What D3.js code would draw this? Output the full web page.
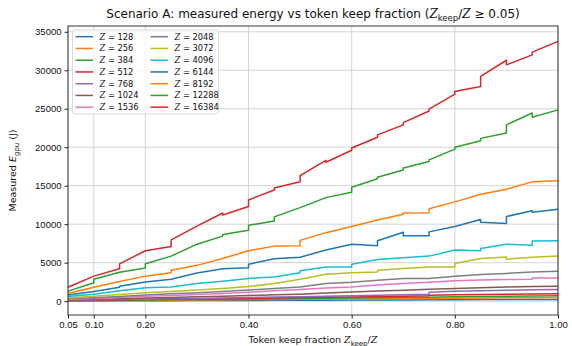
<!DOCTYPE html>
<head>
  <meta charset='utf-8'>
  <style>
    body { margin: 0; background: white; }
    svg { font-family: 'DejaVu Sans', sans-serif; }
    .grid line { stroke: #cfcfcf; stroke-width: 0.9px; }
    .axis path, .axis line { stroke: #222; }
    .axis text { font-size: 9.5px; fill: #111; }
    .line { fill: none; stroke-width: 1.5px; stroke-linejoin: round; }
    .z { font-style: italic; font-family: 'DejaVu Serif', serif; }
  </style>
</head>
<body>
<script src='https://d3js.org/d3.v7.min.js'></script>
<script>
    var
        W = 572,
        H = 346,
        margin = {top: 26, right: 14, bottom: 31, left: 68};

    // keep fractions (x) and tokens per series
    var fractions = [0.05, 0.10, 0.15, 0.20, 0.25, 0.30, 0.35, 0.40, 0.45, 0.50,
                     0.55, 0.60, 0.65, 0.70, 0.75, 0.80, 0.85, 0.90, 0.95, 1.00];
    var tokens = [128, 256, 384, 512, 768, 1024, 1536, 2048, 3072, 4096, 6144, 8192, 12288, 16384];
    var xTicks = [0.05, 0.10, 0.20, 0.40, 0.60, 0.80, 1.00];
    var yTicks = [0, 5000, 10000, 15000, 20000, 25000, 30000, 35000];
    var colors = ['#1f77b4', '#ff7f0e', '#2ca02c', '#d62728', '#9467bd', '#8c564b', '#e377c2',
                  '#7f7f7f', '#bcbd22', '#17becf'];

    // measured energy (J); a pair = value just before / just after a step at that fraction
    var e128 = [15, 25, 40, 50, 60, 75, 85, 95, 110, 120, 130, 140, 155, 165, 175, 190, 200, 210, 220, 230];
    var e256 = [35, 60, 80, 105, 130, 150, 175, 200, 220, 245, 270, 290, 315, 340, 360, 385, 410, 430, 455, 480];
    var e384 = [50, 80, 110, 150, 180, 210, 250, 280, 310, 350, 380, 420, 450, 490, 520, 560, 600, 630, 670, 700];
    var e512 = [70, 110, 150, 200, 240, 290, 330, 370, 420, 460, 510, 550, 600, 650, [700, 780], 820, 850, 880, 920, 950];
    var e768 = [100, 150, 200, 260, 310, 360, 420, 470, 530, 580, 640, 700, 760, 820, [880, 1150], 1300, 1350, 1420, 1470, 1500];
    var e1024 = [150, 230, 320, 400, 480, 560, 640, 730, 820, 900, 1050, 1200, 1320, 1420, 1530, 1640, 1750, 1850, 1900, 1950];
    var e1536 = [220, 350, 480, 620, 730, 850, 1000, 1150, 1350, 1500, 1700, 1850, 2100, 2300, 2450, 2650, 2750, 2800, [2850, 3000], 3000];
    var e2048 = [300, 450, 600, 800, 950, 1100, 1250, 1450, 1650, 1850, 2300, 2450, 2700, 2950, 2950, 3250, 3450, 3600, 3800, 3900];
    var e3072 = [400, 650, 850, 1100, 1250, 1450, 1650, 1900, 2300, 2850, 3500, 3700, [3800, 4000], 4250, 4450, [4450, 4900], 5550, [5750, 5450], 5700, 5850];
    var e4096 = [600, 900, 1350, 1750, 1850, 2300, 2600, 2950, 3150, [3700, 3950], 4450, [4450, 4800], 5400, 5650, 5850, 6650, [6550, 6850], 7400, [7250, 7800], 7850];
    var e6144 = [800, 1250, [1800, 1950], 2500, 2850, 3650, 4200, [4350, 4800], 5500, 5700, 6650, 7400, [7200, 7850], [8950, 8500], [8500, 9000], 9700, [10600, 10250], [10100, 11000], [11750, 11550], 11950];
    var e8192 = [1000, 1800, 2550, 3250, [3700, 4000], 4650, 5550, 6550, 7150, [7200, 7900], 8900, 9700, 10550, [11300, 11450], [11500, 12000], 12900, 13900, 14550, 15500, 15650];
    var e12288 = [1300, [2400, 2850], 3750, [4300, 4850], 5850, 7400, [8450, 8650], [9200, 9850], [10400, 10950], 12150, 13450, [14150, 14800], [15900, 16100], [17050, 17300], [18150, 18350], [19750, 20000], [20850, 21150], [21850, 22900], [24450, 23900], 24850];
    var e16384 = [1800, 3250, [4200, 4850], 6550, [7100, 7950], 9750, [11450, 11200], [12300, 13150], [14450, 14700], [15500, 16300], [18300, 18050], [19600, 19900], [21300, 21600], [22900, 23200], [24700, 24950], [26900, 27250], [27900, 29200], [31300, 30700], [32000, 32350], 33750];

    var energies = [e128, e256, e384, e512, e768, e1024, e1536, e2048, e3072, e4096, e6144, e8192, e12288, e16384];

    var series = tokens.map(function(t, i) {
        var pts = [];
        energies[i].forEach(function(v, j) {
            if (Array.isArray(v)) {
                pts.push([fractions[j], v[0]]);
                pts.push([fractions[j], v[1]]);
            } else {
                pts.push([fractions[j], v]);
            }
        });
        return {tokens: t, color: colors[i % colors.length], points: pts};
    });

    var
        w = W - margin.left - margin.right,
        h = H - margin.top - margin.bottom,
        xScale = d3.scaleLinear().domain([0.05, 1.0]).range([0, w]),
        yScale = d3.scaleLinear().domain([-1800, 35750]).range([h, 0]),
        line = d3.line()
            .x(function(d) { return xScale(d[0]); })
            .y(function(d) { return yScale(d[1]); });

    var svg = d3.select('body').append('svg')
            .attr('width', W)
            .attr('height', H),
        g = svg.append('g')
            .attr('transform', 'translate(' + margin.left + ',' + margin.top + ')');

    // grid
    var grid = g.append('g').attr('class', 'grid');
    grid.selectAll('.gx').data(xTicks).enter().append('line')
        .attr('x1', function(d) { return xScale(d); })
        .attr('x2', function(d) { return xScale(d); })
        .attr('y1', 0).attr('y2', h);
    grid.selectAll('.gy').data(yTicks).enter().append('line')
        .attr('y1', function(d) { return yScale(d); })
        .attr('y2', function(d) { return yScale(d); })
        .attr('x1', 0).attr('x2', w);

    // lines
    g.selectAll('.line').data(series).enter().append('path')
        .attr('class', 'line')
        .attr('stroke', function(d) { return d.color; })
        .attr('d', function(d) { return line(d.points); });

    // axes
    g.append('g')
        .attr('class', 'axis')
        .attr('transform', 'translate(0,' + h + ')')
        .call(d3.axisBottom(xScale).tickValues(xTicks).tickFormat(d3.format('.2f')).tickSizeOuter(0).tickSize(3.5));
    g.append('g')
        .attr('class', 'axis')
        .call(d3.axisLeft(yScale).tickValues(yTicks).tickFormat(d3.format('d')).tickSizeOuter(0).tickSize(3.5));
    g.selectAll('.axis .domain').remove();
    g.append('rect')
        .attr('width', w).attr('height', h)
        .attr('fill', 'none').attr('stroke', '#222').attr('stroke-width', 0.9);

    function zText(sel) {
        sel.append('tspan').attr('class', 'z').text('Z');
    }

    // title
    var title = svg.append('text')
        .attr('x', margin.left + w / 2).attr('y', 18)
        .attr('text-anchor', 'middle')
        .attr('font-size', 12).attr('fill', '#111');
    title.append('tspan').text('Scenario A: measured energy vs token keep fraction (');
    zText(title);
    title.append('tspan').attr('font-size', 8.5).attr('dy', 3).text('keep');
    title.append('tspan').attr('dy', -3).text('/');
    zText(title);
    title.append('tspan').text(' \u2265 0.05)');

    // x label
    var xl = svg.append('text')
        .attr('x', margin.left + w / 2).attr('y', 343)
        .attr('text-anchor', 'middle')
        .attr('font-size', 9.5).attr('fill', '#111');
    xl.append('tspan').text('Token keep fraction ');
    zText(xl);
    xl.append('tspan').attr('font-size', 7).attr('dy', 2.5).text('keep');
    xl.append('tspan').attr('dy', -2.5).text('/');
    zText(xl);

    // y label
    var yl = svg.append('text')
        .attr('transform', 'translate(16,' + (margin.top + h / 2) + ') rotate(-90)')
        .attr('text-anchor', 'middle')
        .attr('font-size', 9.5).attr('fill', '#111');
    yl.append('tspan').text('Measured ');
    yl.append('tspan').attr('font-style', 'italic').text('E');
    yl.append('tspan').attr('font-size', 7).attr('dy', 2.5).text('gpu');
    yl.append('tspan').attr('dy', -2.5).text(' (J)');

    // legend
    var legend = g.append('g').attr('transform', 'translate(4.5,4)');
    legend.append('rect')
        .attr('width', 146).attr('height', 84).attr('rx', 2)
        .attr('fill', 'white').attr('fill-opacity', 0.8)
        .attr('stroke', '#d0d0d0').attr('stroke-width', 0.8);
    var items = legend.selectAll('.item').data(series).enter().append('g')
        .attr('transform', function(d, i) {
            var col = Math.floor(i / 7), row = i % 7;
            return 'translate(' + (3 + col * 75) + ',' + (6.7 + row * 11.75) + ')';
        });
    items.append('line')
        .attr('x1', 0).attr('x2', 17.5)
        .attr('stroke', function(d) { return d.color; })
        .attr('stroke-width', 1.5);
    var lt = items.append('text')
        .attr('x', 24).attr('y', 3)
        .attr('font-size', 8.3).attr('fill', '#111');
    lt.append('tspan').attr('class', 'z').text('Z');
    lt.append('tspan').text(function(d) { return ' = ' + d.tokens; });
</script>
</body>
